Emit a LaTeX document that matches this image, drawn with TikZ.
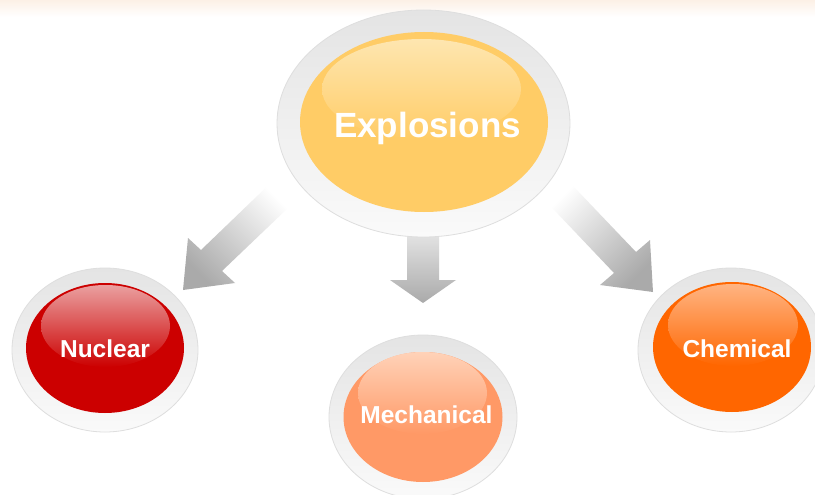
\documentclass[tikz,border=0pt]{standalone}
\usepackage{fontspec}
\setmainfont{Liberation Sans}
\usetikzlibrary{shapes.geometric}
\definecolor{expC}{RGB}{255,204,102}
\definecolor{expH}{RGB}{254,230,176}
\definecolor{nucC}{RGB}{204,0,0}
\definecolor{nucH}{RGB}{234,160,160}
\definecolor{chemC}{RGB}{255,102,0}
\definecolor{chemH}{RGB}{255,180,130}
\definecolor{mechC}{RGB}{255,153,102}
\definecolor{mechH}{RGB}{255,210,184}
\definecolor{ringT}{RGB}{228,228,228}
\definecolor{ringB}{RGB}{250,250,250}
\definecolor{ringD}{RGB}{222,222,222}
\definecolor{arrG}{RGB}{170,170,170}
\definecolor{bandC}{RGB}{252,240,230}
\tikzset{
  ring/.style={ellipse, draw=ringD, line width=0.8pt, top color=ringT, bottom color=ringB, inner sep=0pt},
  core/.style={ellipse, inner sep=0pt, fill=#1},
  gloss/.style={ellipse, inner sep=0pt, top color=#1},
  lbl/.style={text=white, font=\bfseries, inner sep=0pt, anchor=base},
  arrowshape/.style={draw=none}
}
\begin{document}
\begin{tikzpicture}[x=1pt,y=-1pt]
\useasboundingbox (0,0) rectangle (815,495);
\fill[white] (0,0) rectangle (815,495);
\shade[top color=bandC, bottom color=white] (0,0) rectangle (815,17);

% arrows
\shade[arrowshape, top color=white, bottom color=arrG, shading angle=-45]
  (272.5,181.3) -- (201,250) -- (188,238) -- (183,290) -- (235,283) -- (222,271) -- (293.5,202.7) -- cycle;
\shade[arrowshape, top color=white, bottom color=arrG, shading angle=45]
  (567,179.7) -- (636,252) -- (650,240) -- (653,292) -- (600,285) -- (614,273) -- (545,200.3) -- cycle;
\shade[arrowshape, top color=white!92!black, bottom color=arrG]
  (407,225) -- (407,280) -- (390,280) -- (423,303) -- (456,280) -- (439,280) -- (439,225) -- cycle;

% Explosions
\node[ring, minimum width=293, minimum height=227] (expR) at (423.5,123.5) {};
\node[core=expC, minimum width=248, minimum height=180] (exp) at (424,122) {};
\node[gloss=expH, bottom color=expC, minimum width=199, minimum height=100] (expG) at (421.5,89) {};
\node[lbl, font=\bfseries\fontsize{35}{35}\selectfont] (expT) at (427.5,137) {Explosions};

% Nuclear
\node[ring, minimum width=186, minimum height=164] (nucR) at (105,350) {};
\node[core=nucC, minimum width=158, minimum height=130] (nuc) at (105,348) {};
\node[gloss=nucH, bottom color=nucC, minimum width=129, minimum height=82] (nucG) at (105.5,326) {};
\node[lbl, font=\bfseries\fontsize{24.5}{24.5}\selectfont] (nucT) at (105,357) {Nuclear};

% Chemical
\node[ring, minimum width=186, minimum height=164] (chemR) at (731,350) {};
\node[core=chemC, minimum width=158, minimum height=130] (chem) at (732,347) {};
\node[gloss=chemH, bottom color=chemC, minimum width=130, minimum height=82] (chemG) at (733,325) {};
\node[lbl, font=\bfseries\fontsize{24.5}{24.5}\selectfont] (chemT) at (737,357) {Chemical};

% Mechanical
\node[ring, minimum width=188, minimum height=164] (mechR) at (423,417) {};
\node[core=mechC, minimum width=159, minimum height=130] (mech) at (423,417) {};
\node[gloss=mechH, bottom color=mechC, minimum width=129, minimum height=82] (mechG) at (422.5,393) {};
\node[lbl, font=\bfseries\fontsize{24.5}{24.5}\selectfont] (mechT) at (426.5,423) {Mechanical};
\end{tikzpicture}
\end{document}
